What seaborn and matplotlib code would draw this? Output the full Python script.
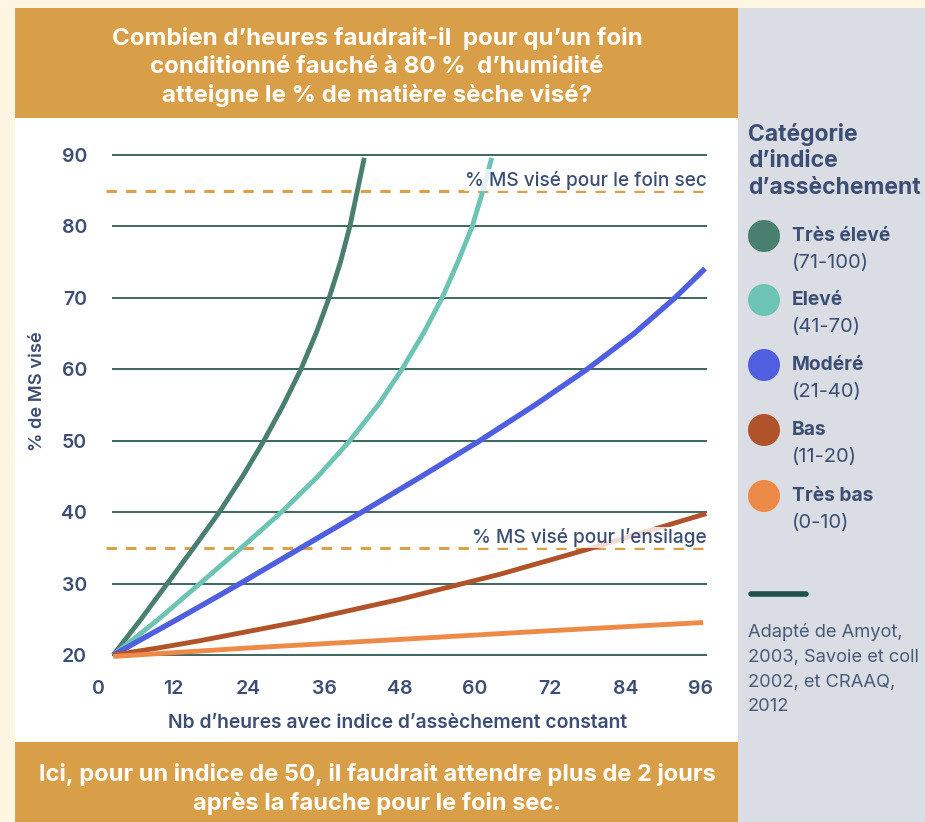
import numpy as np
import pandas as pd
import matplotlib
matplotlib.use("Agg")
import matplotlib.pyplot as plt
from matplotlib.patches import Rectangle, Circle
import seaborn as sns

# -----------------------------------
# DATA
# -----------------------------------

categories = ["Très élevé", "Elevé", "Modéré", "Bas", "Très bas"]
ranges = ["(71-100)", "(41-70)", "(21-40)", "(11-20)", "(0-10)"]

hours_tres_eleve = [2.4, 6.8, 11.0, 15.2, 19.3, 23.0, 26.4, 29.5, 32.3,
                    34.7, 36.8, 38.6, 40.1, 41.3, 42.4]
ms_tres_eleve = [20, 25, 30, 35, 40, 45, 50, 55, 60, 65, 70, 75, 80, 85, 89.6]

hours_eleve = [2.4, 9.6, 16.2, 22.8, 29.2, 35.0, 40.1, 44.6, 48.4, 51.8,
               54.8, 57.3, 59.6, 61.3, 62.7]
ms_eleve = [20, 25, 30, 35, 40, 45, 50, 55, 60, 65, 70, 75, 80, 85, 89.6]

hours_modere = [2.4, 12.6, 22.6, 32.3, 42.0, 51.5, 60.8, 69.6, 77.9, 85.4,
                91.9, 96.7]
ms_modere = [20, 25, 30, 35, 40, 45, 50, 55, 60, 65, 70, 74.1]

hours_bas = [2.4, 9.3, 16.2, 32.2, 48.1, 64.0, 78.0, 87.4, 96.9]
ms_bas = [20, 20.95, 22.0, 24.7, 27.8, 31.3, 34.8, 37.3, 39.8]

hours_tres_bas = [2.4, 24.2, 49.4, 72.0, 96.4]
ms_tres_bas = [19.8, 21.0, 22.25, 23.4, 24.55]

x_ticks = [0, 12, 24, 36, 48, 60, 72, 84, 96]
y_ticks = [20, 30, 40, 50, 60, 70, 80, 90]

target_foin = 85
target_ensilage = 35

colors = ["#4A7E6E", "#6EC4B4", "#4F5FE0", "#B0522A", "#EE8A47"]

# -----------------------------------
# LONG TABLE FOR SEABORN
# -----------------------------------

series = [
    (hours_tres_eleve, ms_tres_eleve),
    (hours_eleve, ms_eleve),
    (hours_modere, ms_modere),
    (hours_bas, ms_bas),
    (hours_tres_bas, ms_tres_bas),
]

frames = []
for cat, (h, v) in zip(categories, series):
    frames.append(pd.DataFrame({"heures": h, "ms": v, "categorie": cat}))
df = pd.concat(frames, ignore_index=True)

# -----------------------------------
# STYLE
# -----------------------------------

sns.set_theme(style="white")
plt.rcParams["font.family"] = ["Inter", "DejaVu Sans"]

text_col = "#3D4E75"
orange = "#D99E48"
cream = "#FEF5E2"
grey_panel = "#DADDE3"
grid_col = "#2E5B52"

W, H = 925, 822
fig = plt.figure(figsize=(W / 100, H / 100), dpi=100, facecolor=cream)

# background layer in pixel coordinates
bg = fig.add_axes([0, 0, 1, 1], zorder=0)
bg.set_xlim(0, W)
bg.set_ylim(H, 0)
bg.axis("off")

bg.add_patch(Rectangle((15, 118), 723, 624, color="white", lw=0))
bg.add_patch(Rectangle((15, 8), 723, 110, color=orange, lw=0))
bg.add_patch(Rectangle((15, 742), 723, 80, color=orange, lw=0))
bg.add_patch(Rectangle((738, 8), W - 738, H - 8, color=grey_panel, lw=0))

bg.text(377, 67,
        "Combien d’heures faudrait-il  pour qu’un foin\n"
        "conditionné fauché à 80 %  d’humidité\n"
        "atteigne le % de matière sèche visé?",
        ha="center", va="center", color="white", fontsize=17.3,
        fontweight="bold", linespacing=1.33)

bg.text(377, 789,
        "Ici, pour un indice de 50, il faudrait attendre plus de 2 jours\n"
        "après la fauche pour le foin sec.",
        ha="center", va="center", color="white", fontsize=17,
        fontweight="bold", linespacing=1.33)

# legend panel
bg.text(748, 123, "Catégorie\nd’indice\nd’assèchement", ha="left", va="top",
        color=text_col, fontsize=16.5, fontweight="bold", linespacing=1.25)

legend_y = [236, 300, 365, 430, 496]
for cat, rng, col, ly in zip(categories, ranges, colors, legend_y):
    bg.add_patch(Circle((764, ly), 16, color=col, lw=0))
    bg.text(792, ly, cat, ha="left", va="center", color=text_col,
            fontsize=13.8, fontweight="bold")
    bg.text(792, ly + 27, rng, ha="left", va="center", color=text_col,
            fontsize=14.5)

bg.plot([751, 806], [594, 594], color="#1C5248", lw=4, solid_capstyle="round")

bg.text(748, 623, "Adapté de Amyot,\n2003, Savoie et coll\n2002, et CRAAQ,\n2012",
        ha="left", va="top", color="#4A5A7A", fontsize=13.2, linespacing=1.6)

# -----------------------------------
# MAIN CHART
# -----------------------------------

ax = fig.add_axes([98.2 / W, 1 - 669.3 / H, 615 / W, 528.6 / H], zorder=1)
ax.patch.set_alpha(0)
ax.set_xlim(0, 98)
ax.set_ylim(18, 92)

ax.hlines(y_ticks, 2.2, 97.0, color=grid_col, lw=1.3, zorder=1)
for t in [target_foin, target_ensilage]:
    ax.plot([1.25, 97.0], [t, t], color="#DDA04A", lw=2.2,
            dashes=(3.4, 3.0), zorder=1)

sns.lineplot(
    data=df, x="heures", y="ms", hue="categorie",
    hue_order=categories, palette=colors,
    estimator=None, sort=False, lw=3.5, legend=False, ax=ax, zorder=3
)
for line in ax.get_lines()[-5:]:
    line.set_solid_capstyle("butt")
    line.set_solid_joinstyle("round")
ax.get_lines()[-3].set_linewidth(3.9)

box = dict(facecolor="white", alpha=0.8, edgecolor="none", pad=1)
ax.text(97.0, target_foin + 0.7, "% MS visé pour le foin sec", ha="right",
        va="baseline", color=text_col, fontsize=13.7, fontweight="medium",
        bbox=box, zorder=4)
ax.text(97.0, target_ensilage + 0.7, "% MS visé pour l’ensilage", ha="right",
        va="baseline", color=text_col, fontsize=13.7, fontweight="medium",
        bbox=box, zorder=4)

ax.set_xticks(x_ticks)
ax.set_yticks(y_ticks)
ax.tick_params(axis="both", length=0, labelsize=14, labelcolor=text_col)
ax.tick_params(axis="x", pad=8)
ax.tick_params(axis="y", pad=8)
for lab in ax.get_xticklabels() + ax.get_yticklabels():
    lab.set_fontweight("semibold")

sns.despine(ax=ax, left=True, bottom=True)
ax.grid(False)
ax.set_xlabel("")
ax.set_ylabel("")

bg.text(398, 723, "Nb d’heures avec indice d’assèchement constant",
        ha="center", va="center", color=text_col, fontsize=13.9,
        fontweight="semibold")
bg.text(38, 391, "% de MS visé", ha="center", va="center", rotation=90,
        color=text_col, fontsize=13.2, fontweight="semibold")

fig.savefig("out.png", dpi=100, facecolor=cream)
